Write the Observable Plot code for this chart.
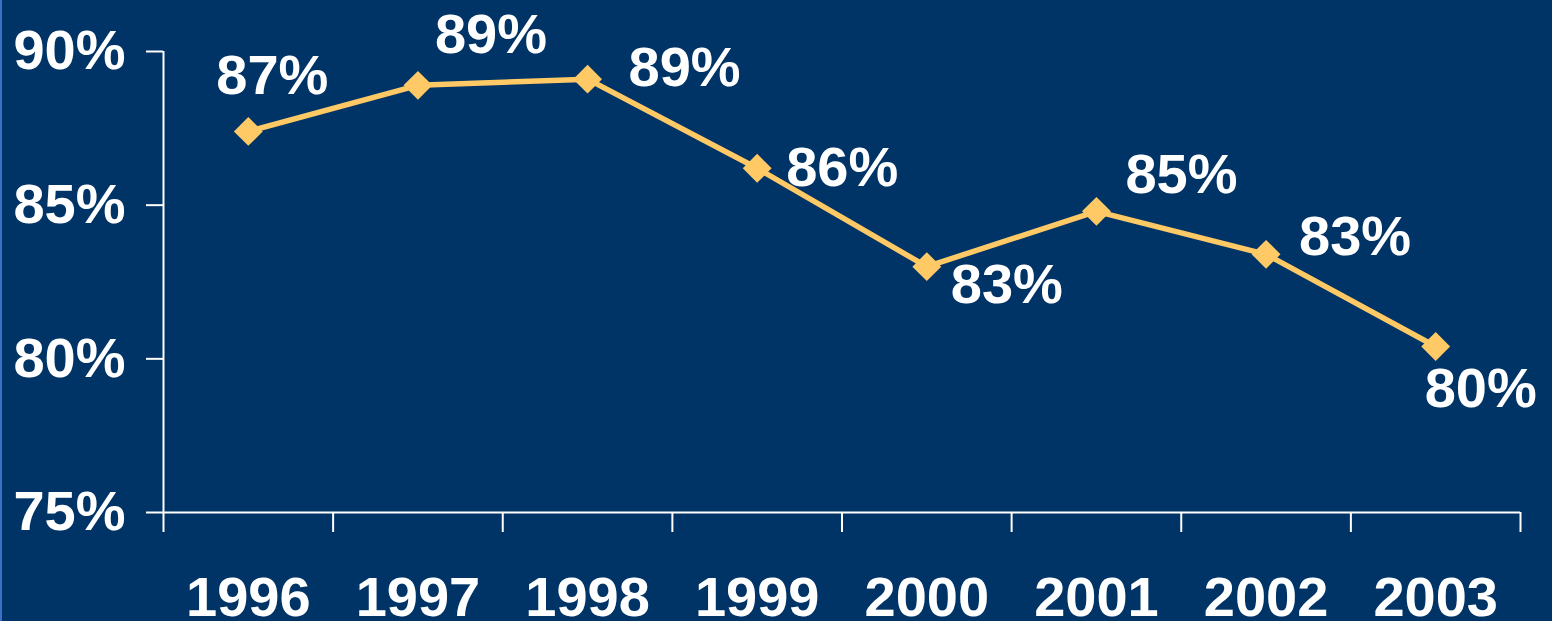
<!DOCTYPE html>
<html>
<head>
<meta charset="utf-8">
<script src="https://cdn.jsdelivr.net/npm/d3@7"></script>
<script src="https://cdn.jsdelivr.net/npm/@observablehq/plot@0.6"></script>
<style>
  html, body { margin: 0; padding: 0; background: #003366; overflow: hidden; }
  #chart { position: relative; width: 1552px; height: 621px; }
  #edge { position: absolute; left: 0; top: 0; width: 2px; height: 621px; background: #3b70c8; }
</style>
</head>
<body>
<div id="chart"><div id="edge"></div></div>
<script>
const years = [1996, 1997, 1998, 1999, 2000, 2001, 2002, 2003];
const values = [87.4, 88.9, 89.1, 86.2, 83.0, 84.8, 83.4, 80.4];
const labels = ["87%", "89%", "89%", "86%", "83%", "85%", "83%", "80%"];
const yTicks = [75, 80, 85, 90];
const yTickLabels = ["75%", "80%", "85%", "90%"];

const data = years.map((year, i) => ({year, value: values[i], label: labels[i]}));

// label placement offsets (styling only)
const labelOffsets = [[24, -55], [73, -50], [97, -11], [85, 0], [80, 18], [85, -36], [89, -17], [45, 43]];
const boundaries = d3.range(years.length + 1).map(i => years[0] - 0.5 + i);

const font = {fontFamily: "'Liberation Sans', Arial, sans-serif", fontWeight: "bold", fontSize: 56};
const lineColor = "#FFC965";

const plot = Plot.plot({
  width: 1552,
  height: 621,
  marginLeft: 163,
  marginRight: 32,
  marginTop: 51,
  marginBottom: 109,
  style: {background: "#003366", color: "white", overflow: "visible"},
  x: {type: "linear", domain: [years[0] - 0.5, years[years.length - 1] + 0.5], label: null},
  y: {domain: [75, 90], label: null},
  marks: [
    Plot.ruleX([boundaries[0]], {stroke: "white", strokeWidth: 2}),
    Plot.ruleY([75], {stroke: "white", strokeWidth: 2}),
    Plot.axisY({ticks: yTicks, tickFormat: d => yTickLabels[yTicks.indexOf(d)], tickSize: 17, tickPadding: 21, strokeWidth: 2, label: null, ...font}),
    Plot.axisX({ticks: boundaries, tickFormat: () => "", tickSize: 20, strokeWidth: 2, label: null}),
    Plot.axisX({ticks: years, tickFormat: d => String(d), tickSize: 0, tickPadding: 64, label: null, ...font}),
    Plot.line(data, {x: "year", y: "value", stroke: lineColor, strokeWidth: 5.5}),
    Plot.dot(data, {x: "year", y: "value", symbol: "diamond2", r: 13, fill: lineColor, stroke: "none"}),
    ...data.map((d, i) => Plot.text([d], {x: "year", y: "value", text: "label", dx: labelOffsets[i][0], dy: labelOffsets[i][1], fill: "white", ...font}))
  ]
});
document.getElementById("chart").appendChild(plot);
</script>
</body>
</html>
